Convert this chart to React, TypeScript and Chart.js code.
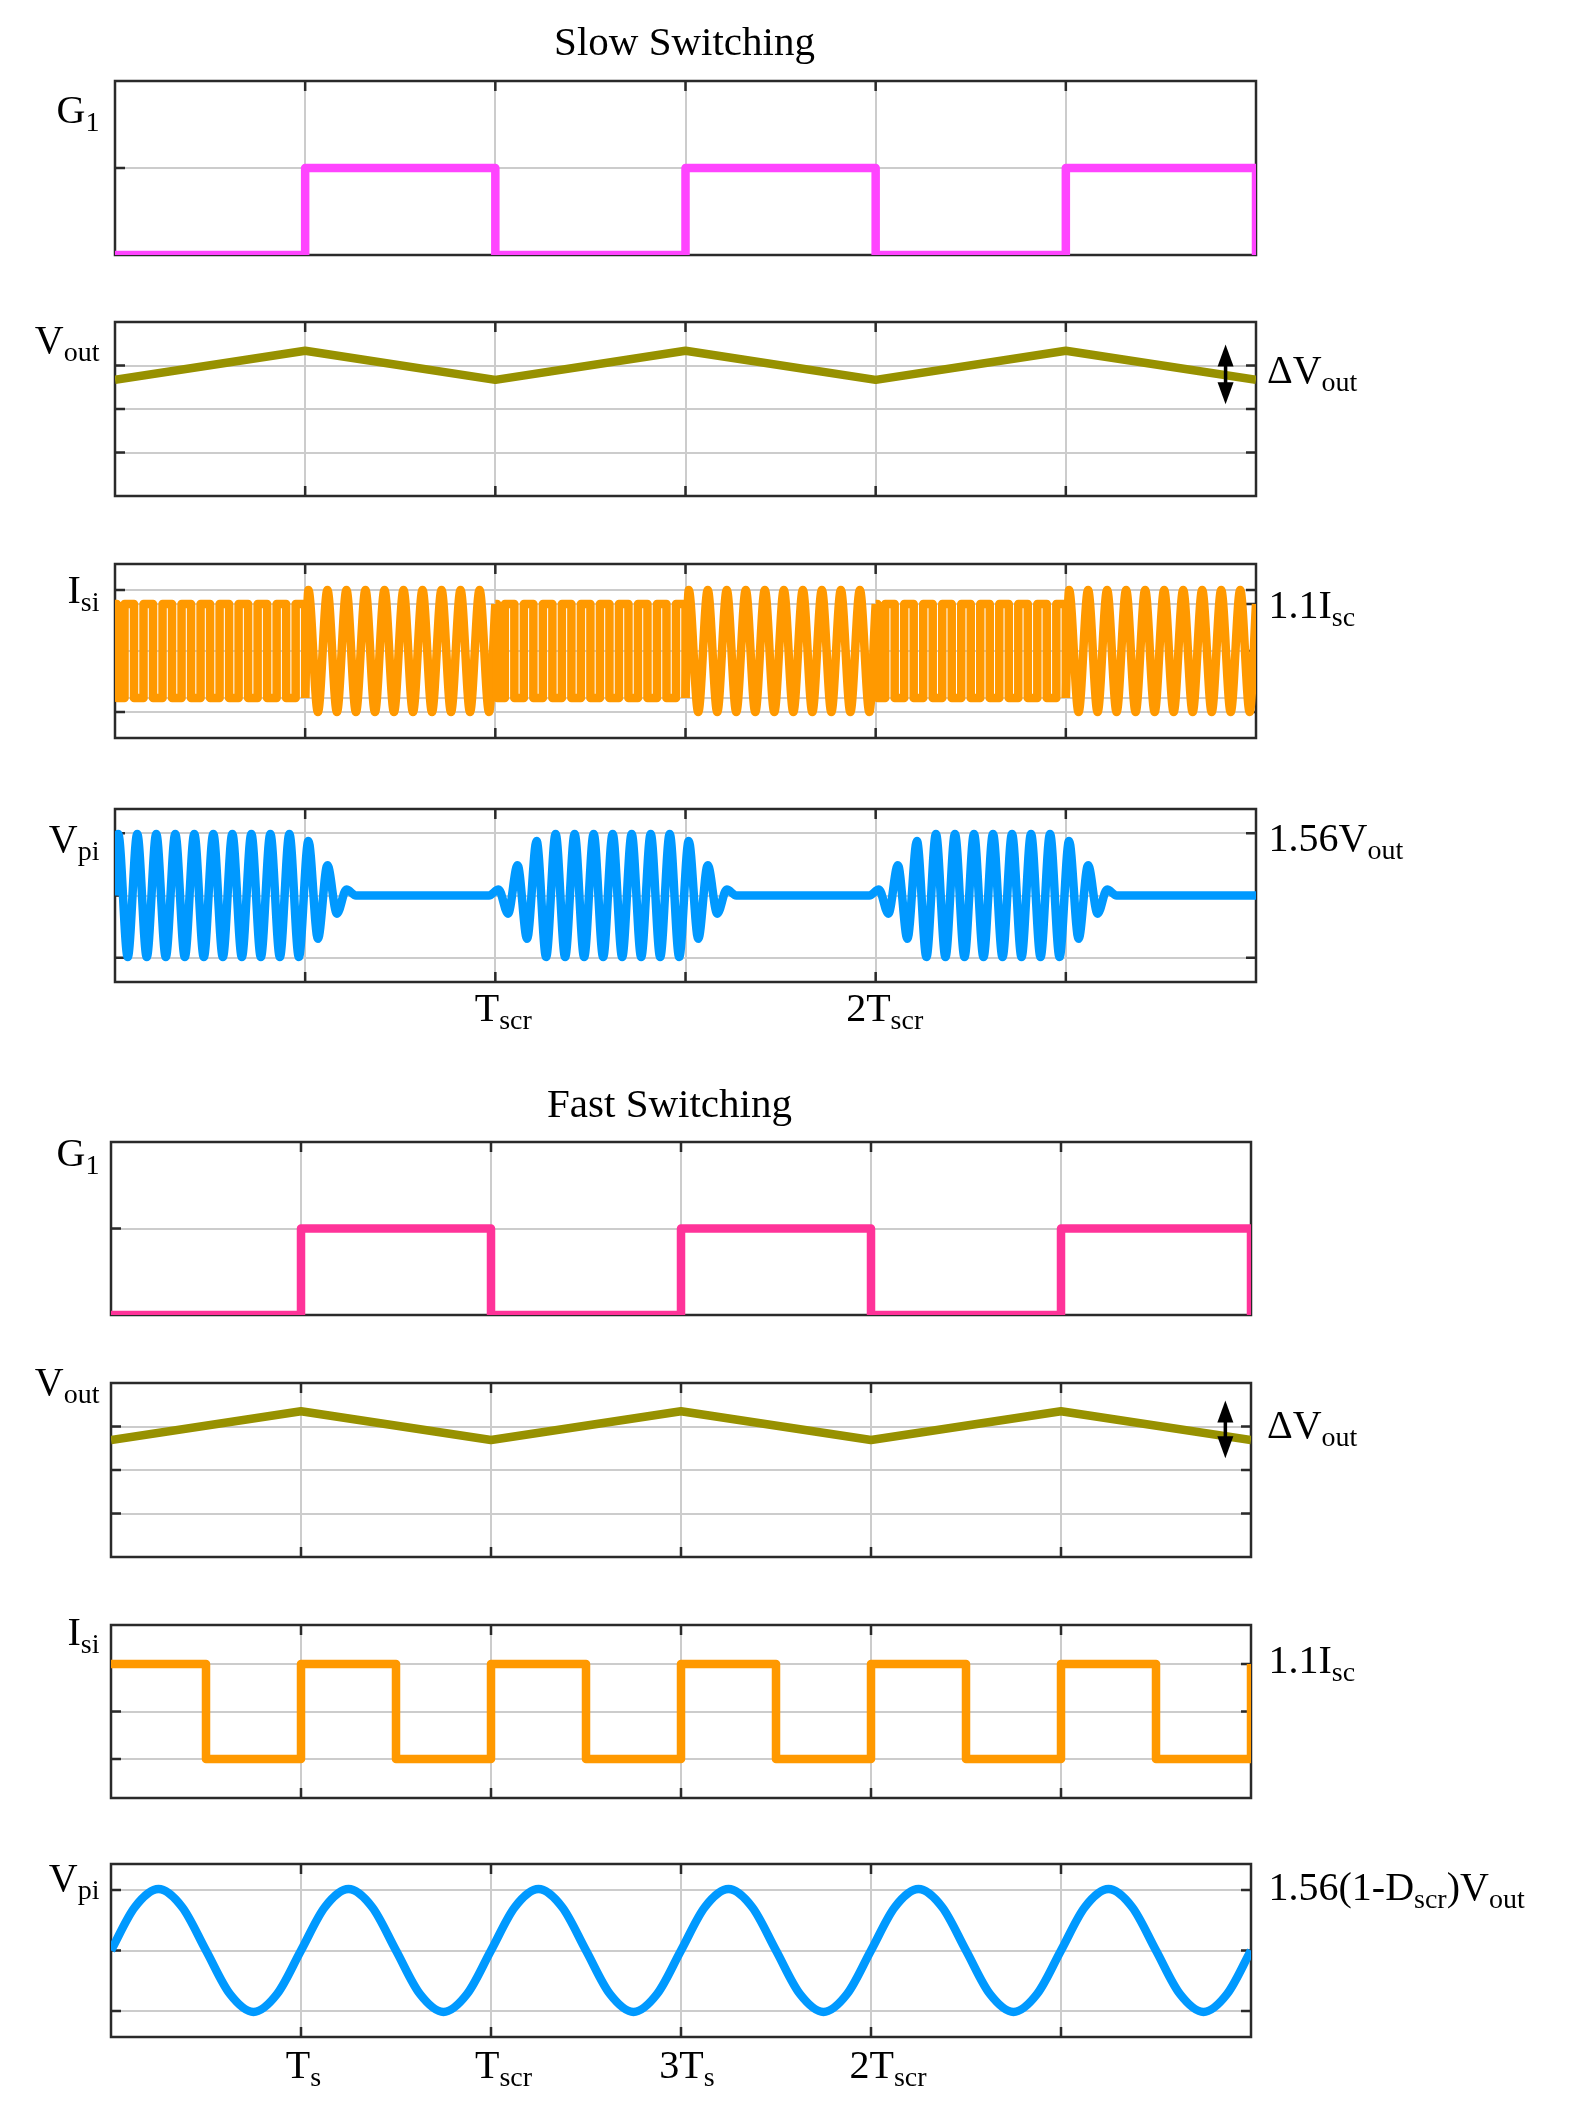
import React, { useEffect, useRef } from 'react';
import { Chart, registerables } from 'chart.js';

Chart.register(...registerables);

// ---------------- data ----------------
const X_MIN = 0;
const X_MAX = 6;
const X_GRID = [1, 2, 3, 4, 5];

// gate signal G1 (level held from each instant to the next)
const G1_T = [0, 1, 2, 3, 4, 5, 6];
const G1_LEVEL = [0, 1, 0, 1, 0, 1, 0];

// output voltage ripple corners
const VOUT_T = [0, 1, 2, 3, 4, 5, 6];
const VOUT_SLOW = [2.67, 3.34, 2.67, 3.34, 2.67, 3.34, 2.67];
const VOUT_FAST = [2.69, 3.35, 2.69, 3.35, 2.69, 3.35, 2.69];
const DVOUT_SLOW = { x: 5.84, hi: 3.48, lo: 2.11 };
const DVOUT_FAST = { x: 5.865, hi: 3.6, lo: 2.27 };

// slow switching: Isi square part (within one period unit)
const ISI_SQ_T = [0, 0.01, 0.05, 0.1, 0.15, 0.2, 0.25, 0.3, 0.35, 0.4, 0.45, 0.5, 0.55, 0.6, 0.65, 0.7, 0.75, 0.8, 0.85, 0.9, 0.95, 1.0];
const ISI_SQ_V = [0.54, -0.54, 0.54, -0.54, 0.54, -0.54, 0.54, -0.54, 0.54, -0.54, 0.54, -0.54, 0.54, -0.54, 0.54, -0.54, 0.54, -0.54, 0.54, -0.54, 0.54, -0.54];
const ISI_SQ_STARTS = [0, 2, 4];

// extrema instants of the resonant oscillation inside one unit
const EXT_T = [0.017, 0.067, 0.117, 0.167, 0.217, 0.267, 0.317, 0.367, 0.417, 0.467, 0.517, 0.567, 0.617, 0.667, 0.717, 0.767, 0.817, 0.867, 0.917, 0.967];

// slow switching: Isi resonant part
const ISI_SINE_T = [0, ...EXT_T, 1.0];
const ISI_SINE_V = [-0.54, 0.7, -0.7, 0.7, -0.7, 0.7, -0.7, 0.7, -0.7, 0.7, -0.7, 0.7, -0.7, 0.7, -0.7, 0.7, -0.7, 0.7, -0.7, 0.7, -0.7, 0.54];
const ISI_SINE_STARTS = [1, 3, 5];

// slow switching: Vpi extrema per unit
const VPI_FULL = [0.71, -0.71, 0.71, -0.71, 0.71, -0.71, 0.71, -0.71, 0.71, -0.71, 0.71, -0.71, 0.71, -0.71, 0.71, -0.71, 0.71, -0.71, 0.71, -0.71];
const VPI_DECAY = [0.63, -0.5, 0.35, -0.21, 0.07, 0, 0, 0, 0, 0, 0, 0, 0, 0, 0, 0, 0, 0, 0, 0];
const VPI_GROWTH = [0.07, -0.21, 0.35, -0.5, 0.63, -0.71, 0.71, -0.71, 0.71, -0.71, 0.71, -0.71, 0.71, -0.71, 0.71, -0.71, 0.71, -0.71, 0.71, -0.71];
const VPI_SLOW_UNITS = [VPI_FULL, VPI_DECAY, VPI_GROWTH, VPI_DECAY, VPI_GROWTH, VPI_DECAY];

// fast switching: Isi square wave
const ISI_FAST_T = [0, 0.5, 1, 1.5, 2, 2.5, 3, 3.5, 4, 4.5, 5, 5.5, 6];
const ISI_FAST_V = [0.55, -0.55, 0.55, -0.55, 0.55, -0.55, 0.55, -0.55, 0.55, -0.55, 0.55, -0.55, 0.55];

// fast switching: Vpi sinusoid, sampled every 1/8 unit
const VPI_FAST_STEP = 0.125;
const VPI_FAST_V = [
  0, 0.5, 0.71, 0.5, 0, -0.5, -0.71, -0.5,
  0, 0.5, 0.71, 0.5, 0, -0.5, -0.71, -0.5,
  0, 0.5, 0.71, 0.5, 0, -0.5, -0.71, -0.5,
  0, 0.5, 0.71, 0.5, 0, -0.5, -0.71, -0.5,
  0, 0.5, 0.71, 0.5, 0, -0.5, -0.71, -0.5,
  0, 0.5, 0.71, 0.5, 0, -0.5, -0.71, -0.5,
  0,
];

// y axis tick values
const G1_TICKS = [1];
const VOUT_TICKS = [1, 2, 3];
const ISI_SLOW_TICKS = [-0.7, -0.54, 0, 0.54, 0.7];
const VPI_SLOW_TICKS = [-0.72, 0, 0.72];
const ISI_FAST_TICKS = [-0.55, 0, 0.55];
const VPI_FAST_TICKS = [-0.7, 0, 0.7];

// ---------------- styles ----------------
const PAGE_W = 1574;
const PAGE_H = 2116;
const PAD_T = 75;
const PAD_B = 60;
const FONT = '"Liberation Serif", "Times New Roman", serif';
const MAIN_SIZE = 40;
const SUB_SIZE = 28;
const SUB_DROP = 8;
const BORDER_COLOR = '#2a2a2a';
const GRID_COLOR = 'rgb(204,204,204)';
const TICK_LEN = 10;
const LINE_W = 8.5;
const C_G1_SLOW = '#ff44ff';
const C_G1_FAST = '#ff3399';
const C_VOUT = '#979100';
const C_ISI = '#ff9900';
const C_VPI = '#0099ff';

type Rich = [string, boolean][];

interface PanelSpec {
  key: string;
  left: number;
  right: number;
  top: number;
  bottom: number;
  yMin: number;
  yMax: number;
  yTicks: number[];
  datasets: any[];
  leftLabel: { parts: Rich; baseline: number };
  rightLabel?: { parts: Rich; x: number; baseline: number };
  title?: { text: string; cx: number; baseline: number };
  arrow?: { x: number; hi: number; lo: number };
  xLabels?: { value: number; parts: Rich; dx: number }[];
  xLabelBaseline?: number;
}

const pts = (t: number[], v: number[], off = 0) => t.map((x, i) => ({ x: x + off, y: v[i] }));

const base = { pointRadius: 0, borderWidth: LINE_W, borderJoinStyle: 'round', borderCapStyle: 'butt', fill: false };

const stepDs = (data: any[], color: string) => ({ ...base, data, borderColor: color, stepped: true });
const lineDs = (data: any[], color: string) => ({ ...base, data, borderColor: color, tension: 0 });
const smoothDs = (data: any[], color: string) => ({ ...base, data, borderColor: color, cubicInterpolationMode: 'monotone' });

function vpiSlowData() {
  const out: { x: number; y: number }[] = [{ x: 0, y: 0 }];
  VPI_SLOW_UNITS.forEach((unit, u) => {
    EXT_T.forEach((t, i) => out.push({ x: u + t, y: unit[i] }));
  });
  out.push({ x: 6, y: 0 });
  return out;
}

const SL = 115, SR = 1256, FL = 111, FR = 1251;

const PANELS: PanelSpec[] = [
  {
    key: 's1', left: SL, right: SR, top: 81, bottom: 255, yMin: 0, yMax: 2, yTicks: G1_TICKS,
    datasets: [stepDs(pts(G1_T, G1_LEVEL), C_G1_SLOW)],
    leftLabel: { parts: [['G', false], ['1', true]], baseline: 123 },
    title: { text: 'Slow Switching', cx: 684.5, baseline: 55 },
  },
  {
    key: 's2', left: SL, right: SR, top: 322, bottom: 496, yMin: 0, yMax: 4, yTicks: VOUT_TICKS,
    datasets: [lineDs(pts(VOUT_T, VOUT_SLOW), C_VOUT)],
    leftLabel: { parts: [['V', false], ['out', true]], baseline: 353 },
    rightLabel: { parts: [['\u0394V', false], ['out', true]], x: 1267, baseline: 383 },
    arrow: DVOUT_SLOW,
  },
  {
    key: 's3', left: SL, right: SR, top: 564, bottom: 738, yMin: -1, yMax: 1, yTicks: ISI_SLOW_TICKS,
    datasets: [
      ...ISI_SQ_STARTS.map((s) => stepDs(pts(ISI_SQ_T, ISI_SQ_V, s), C_ISI)),
      ...ISI_SINE_STARTS.map((s) => smoothDs(pts(ISI_SINE_T, ISI_SINE_V, s), C_ISI)),
    ],
    leftLabel: { parts: [['I', false], ['si', true]], baseline: 603 },
    rightLabel: { parts: [['1.1I', false], ['sc', true]], x: 1268.5, baseline: 618 },
  },
  {
    key: 's4', left: SL, right: SR, top: 809, bottom: 982, yMin: -1, yMax: 1, yTicks: VPI_SLOW_TICKS,
    datasets: [smoothDs(vpiSlowData(), C_VPI)],
    leftLabel: { parts: [['V', false], ['pi', true]], baseline: 852 },
    rightLabel: { parts: [['1.56V', false], ['out', true]], x: 1268.5, baseline: 850.5 },
    xLabels: [
      { value: 2, parts: [['T', false], ['scr', true]], dx: 8 },
      { value: 4, parts: [['2T', false], ['scr', true]], dx: 9 },
    ],
    xLabelBaseline: 1021,
  },
  {
    key: 'f1', left: FL, right: FR, top: 1142, bottom: 1315, yMin: 0, yMax: 2, yTicks: G1_TICKS,
    datasets: [stepDs(pts(G1_T, G1_LEVEL), C_G1_FAST)],
    leftLabel: { parts: [['G', false], ['1', true]], baseline: 1165.5 },
    title: { text: 'Fast Switching', cx: 669.5, baseline: 1116.5 },
  },
  {
    key: 'f2', left: FL, right: FR, top: 1383, bottom: 1557, yMin: 0, yMax: 4, yTicks: VOUT_TICKS,
    datasets: [lineDs(pts(VOUT_T, VOUT_FAST), C_VOUT)],
    leftLabel: { parts: [['V', false], ['out', true]], baseline: 1395 },
    rightLabel: { parts: [['\u0394V', false], ['out', true]], x: 1267, baseline: 1437.5 },
    arrow: DVOUT_FAST,
  },
  {
    key: 'f3', left: FL, right: FR, top: 1625, bottom: 1798, yMin: -1, yMax: 1, yTicks: ISI_FAST_TICKS,
    datasets: [stepDs(pts(ISI_FAST_T, ISI_FAST_V), C_ISI)],
    leftLabel: { parts: [['I', false], ['si', true]], baseline: 1644.5 },
    rightLabel: { parts: [['1.1I', false], ['sc', true]], x: 1268.5, baseline: 1672.5 },
  },
  {
    key: 'f4', left: FL, right: FR, top: 1864, bottom: 2037, yMin: -1, yMax: 1, yTicks: VPI_FAST_TICKS,
    datasets: [smoothDs(VPI_FAST_V.map((v, i) => ({ x: i * VPI_FAST_STEP, y: v })), C_VPI)],
    leftLabel: { parts: [['V', false], ['pi', true]], baseline: 1891 },
    rightLabel: { parts: [['1.56(1-D', false], ['scr', true], [')V', false], ['out', true]], x: 1268.5, baseline: 1900 },
    xLabels: [
      { value: 1, parts: [['T', false], ['s', true]], dx: 2.5 },
      { value: 2, parts: [['T', false], ['scr', true]], dx: 12.5 },
      { value: 3, parts: [['3T', false], ['s', true]], dx: 6 },
      { value: 4, parts: [['2T', false], ['scr', true]], dx: 17 },
    ],
    xLabelBaseline: 2078,
  },
];

function drawRich(ctx: CanvasRenderingContext2D, parts: Rich, x: number, baseline: number, align: 'left' | 'right' | 'center') {
  const widths = parts.map(([t, sub]) => {
    ctx.font = `${sub ? SUB_SIZE : MAIN_SIZE}px ${FONT}`;
    return ctx.measureText(t).width;
  });
  const total = widths.reduce((a, b) => a + b, 0);
  let cx = align === 'left' ? x : align === 'right' ? x - total : x - total / 2;
  ctx.textAlign = 'left';
  ctx.textBaseline = 'alphabetic';
  parts.forEach(([t, sub], i) => {
    ctx.font = `${sub ? SUB_SIZE : MAIN_SIZE}px ${FONT}`;
    ctx.fillText(t, cx, baseline + (sub ? SUB_DROP : 0));
    cx += widths[i];
  });
}

function makePlugin(spec: PanelSpec) {
  const off = spec.top - PAD_T;
  return {
    id: 'frame_' + spec.key,
    beforeDatasetsDraw(chart: any) {
      const { ctx, chartArea: a, scales } = chart;
      ctx.save();
      ctx.strokeStyle = BORDER_COLOR;
      ctx.lineWidth = 2.5;
      ctx.strokeRect(a.left, a.top, a.right - a.left, a.bottom - a.top);
      ctx.beginPath();
      for (const t of scales.x.ticks) {
        const px = scales.x.getPixelForValue(t.value);
        ctx.moveTo(px, a.top);
        ctx.lineTo(px, a.top + TICK_LEN);
        ctx.moveTo(px, a.bottom);
        ctx.lineTo(px, a.bottom - TICK_LEN);
      }
      for (const t of scales.y.ticks) {
        const py = scales.y.getPixelForValue(t.value);
        ctx.moveTo(a.left, py);
        ctx.lineTo(a.left + TICK_LEN, py);
        ctx.moveTo(a.right, py);
        ctx.lineTo(a.right - TICK_LEN, py);
      }
      ctx.stroke();
      ctx.restore();
    },
    afterDraw(chart: any) {
      const { ctx, scales } = chart;
      ctx.save();
      ctx.fillStyle = '#000';
      drawRich(ctx, spec.leftLabel.parts, 99.5, spec.leftLabel.baseline - off, 'right');
      if (spec.rightLabel) drawRich(ctx, spec.rightLabel.parts, spec.rightLabel.x, spec.rightLabel.baseline - off, 'left');
      if (spec.title) {
        ctx.font = `41px ${FONT}`;
        ctx.textAlign = 'center';
        ctx.textBaseline = 'alphabetic';
        ctx.fillText(spec.title.text, spec.title.cx, spec.title.baseline - off);
      }
      if (spec.xLabels) {
        for (const l of spec.xLabels) {
          const px = scales.x.getPixelForValue(l.value);
          drawRich(ctx, l.parts, px + l.dx, (spec.xLabelBaseline as number) - off, 'center');
        }
      }
      if (spec.arrow) {
        const ax = scales.x.getPixelForValue(spec.arrow.x);
        const yt = scales.y.getPixelForValue(spec.arrow.hi);
        const yb = scales.y.getPixelForValue(spec.arrow.lo);
        const HL = 22, HW = 16;
        ctx.strokeStyle = '#000';
        ctx.lineWidth = 3.5;
        ctx.beginPath();
        ctx.moveTo(ax, yt + HL - 2);
        ctx.lineTo(ax, yb - HL + 2);
        ctx.stroke();
        ctx.beginPath();
        ctx.moveTo(ax, yt);
        ctx.lineTo(ax - HW / 2, yt + HL);
        ctx.lineTo(ax + HW / 2, yt + HL);
        ctx.closePath();
        ctx.fill();
        ctx.beginPath();
        ctx.moveTo(ax, yb);
        ctx.lineTo(ax - HW / 2, yb - HL);
        ctx.lineTo(ax + HW / 2, yb - HL);
        ctx.closePath();
        ctx.fill();
      }
      ctx.restore();
    },
  };
}

function Panel({ spec }: { spec: PanelSpec }) {
  const ref = useRef<HTMLCanvasElement>(null);
  const h = spec.bottom - spec.top + PAD_T + PAD_B;
  useEffect(() => {
    const canvas = ref.current;
    if (!canvas) return;
    const yTicks = spec.yTicks;
    const chart = new Chart(canvas, {
      type: 'line',
      data: { datasets: spec.datasets },
      options: {
        animation: false,
        responsive: false,
        maintainAspectRatio: false,
        devicePixelRatio: 1,
        events: [],
        layout: { padding: { left: spec.left, right: PAGE_W - spec.right, top: PAD_T, bottom: PAD_B } },
        plugins: { legend: { display: false }, tooltip: { enabled: false }, title: { display: false } },
        scales: {
          x: {
            type: 'linear',
            min: X_MIN,
            max: X_MAX,
            afterBuildTicks: (s: any) => { s.ticks = X_GRID.map((v) => ({ value: v })); },
            ticks: { display: false },
            grid: { color: GRID_COLOR, lineWidth: 2, drawTicks: false },
            border: { display: false },
          },
          y: {
            type: 'linear',
            min: spec.yMin,
            max: spec.yMax,
            afterBuildTicks: (s: any) => { s.ticks = yTicks.map((v) => ({ value: v })); },
            ticks: { display: false },
            grid: { color: GRID_COLOR, lineWidth: 2, drawTicks: false },
            border: { display: false },
          },
        },
      } as any,
      plugins: [makePlugin(spec)],
    });
    return () => chart.destroy();
  }, []);
  return (
    <canvas
      ref={ref}
      width={PAGE_W}
      height={h}
      style={{ position: 'absolute', left: 0, top: spec.top - PAD_T, width: PAGE_W, height: h }}
    />
  );
}

export default function App() {
  return (
    <div style={{ position: 'absolute', left: 0, top: 0, width: PAGE_W, height: PAGE_H, background: '#fff' }}>
      {PANELS.map((p) => (
        <Panel key={p.key} spec={p} />
      ))}
    </div>
  );
}
